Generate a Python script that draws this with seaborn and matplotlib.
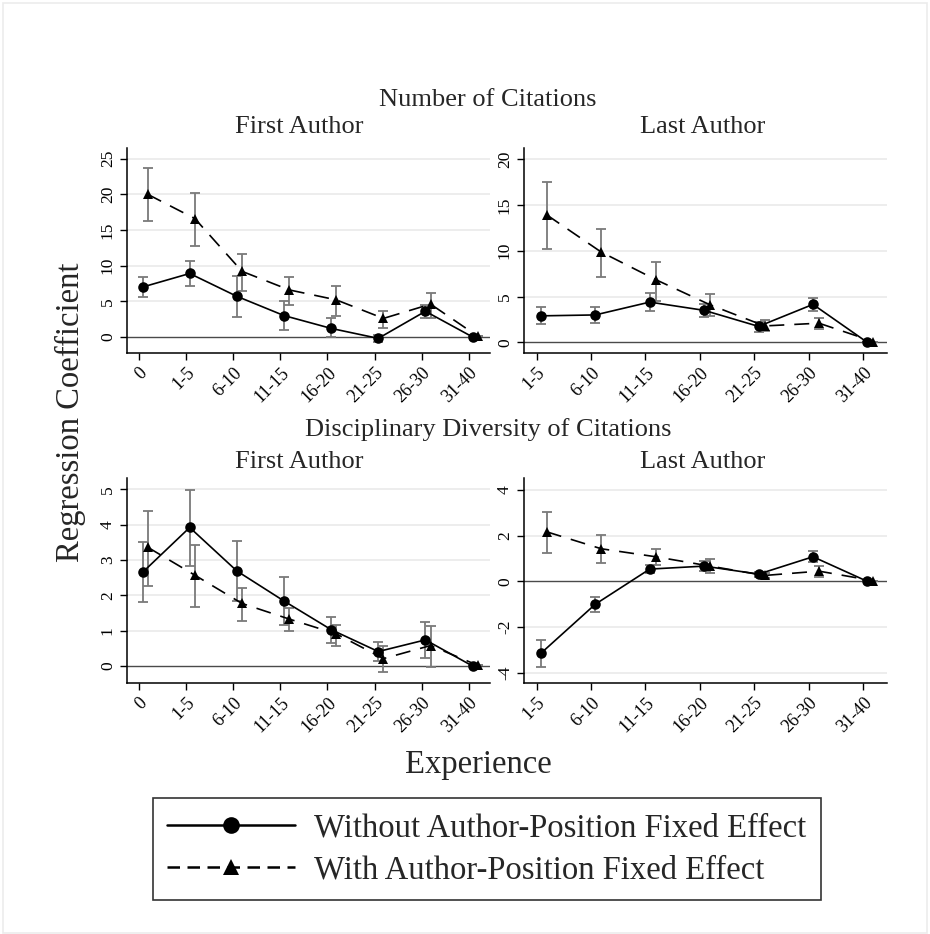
import numpy as np
import pandas as pd
import matplotlib
matplotlib.use("Agg")
import matplotlib.pyplot as plt
import seaborn as sns
from matplotlib.lines import Line2D
from matplotlib.patches import Rectangle

# ---------------- data ----------------
cats_first = ["0", "1-5", "6-10", "11-15", "16-20", "21-25", "26-30", "31-40"]
cats_last = ["1-5", "6-10", "11-15", "16-20", "21-25", "26-30", "31-40"]

# Number of citations, first author
nc_first_wo = [7.0, 8.9, 5.7, 3.0, 1.2, -0.2, 3.6, 0.0]
nc_first_wo_lo = [5.6, 7.2, 2.8, 1.0, 0.0, -0.7, 2.7, 0.0]
nc_first_wo_hi = [8.4, 10.65, 8.6, 5.0, 2.6, 0.3, 4.5, 0.0]
nc_first_w = [20.0, 16.6, 9.2, 6.6, 5.2, 2.6, 4.6, 0.1]
nc_first_w_lo = [16.2, 12.7, 6.5, 4.5, 3.0, 1.3, 2.7, 0.1]
nc_first_w_hi = [23.7, 20.2, 11.7, 8.45, 7.2, 3.6, 6.1, 0.1]

# Number of citations, last author
nc_last_wo = [2.9, 3.0, 4.4, 3.5, 1.75, 4.15, 0.0]
nc_last_wo_lo = [2.0, 2.1, 3.4, 2.8, 1.1, 3.4, 0.0]
nc_last_wo_hi = [3.85, 3.9, 5.4, 4.2, 2.2, 4.9, 0.0]
nc_last_w = [13.9, 9.85, 6.85, 4.1, 1.8, 2.1, 0.1]
nc_last_w_lo = [10.2, 7.1, 4.55, 2.85, 1.2, 1.45, 0.1]
nc_last_w_hi = [17.45, 12.4, 8.8, 5.3, 2.5, 2.7, 0.1]

# Disciplinary diversity, first author
dd_first_wo = [2.65, 3.92, 2.69, 1.84, 1.03, 0.41, 0.74, 0.0]
dd_first_wo_lo = [1.8, 2.84, 1.85, 1.17, 0.66, 0.15, 0.24, 0.0]
dd_first_wo_hi = [3.52, 4.98, 3.53, 2.51, 1.4, 0.68, 1.25, 0.0]
dd_first_w = [3.36, 2.57, 1.77, 1.33, 0.91, 0.21, 0.58, 0.02]
dd_first_w_lo = [2.26, 1.67, 1.28, 0.98, 0.57, -0.18, -0.04, 0.02]
dd_first_w_hi = [4.4, 3.42, 2.22, 1.64, 1.15, 0.58, 1.13, 0.02]

# Disciplinary diversity, last author
dd_last_wo = [-3.15, -1.0, 0.54, 0.67, 0.32, 1.08, 0.0]
dd_last_wo_lo = [-3.77, -1.33, 0.37, 0.45, 0.2, 0.83, 0.0]
dd_last_wo_hi = [-2.57, -0.69, 0.7, 0.9, 0.42, 1.33, 0.0]
dd_last_w = [2.17, 1.43, 1.08, 0.67, 0.26, 0.45, 0.03]
dd_last_w_lo = [1.24, 0.8, 0.7, 0.39, 0.16, 0.2, 0.03]
dd_last_w_hi = [3.04, 2.04, 1.43, 0.96, 0.37, 0.67, 0.03]

series_names = ["Without Author-Position Fixed Effect", "With Author-Position Fixed Effect"]

yticks_nc_first = [0, 5, 10, 15, 20, 25]
yticks_nc_last = [0, 5, 10, 15, 20]
yticks_dd_first = [0, 1, 2, 3, 4, 5]
yticks_dd_last = [-4, -2, 0, 2, 4]

# ---------------- style ----------------
sns.set_theme(style="white")
plt.rcParams["font.family"] = ["Liberation Serif", "DejaVu Serif"]
plt.rcParams["axes.unicode_minus"] = False

fig = plt.figure(figsize=(9.3, 9.34), dpi=100)
fig.patch.set_facecolor("white")
fig.add_artist(Rectangle((3 / 930, 1 / 934), 924 / 930, 930 / 934, transform=fig.transFigure,
                         fill=False, edgecolor="#ececec", linewidth=1.2))

W, H = 930, 934


def ax_rect(l, t, r, b):
    return [l / W, 1 - b / H, (r - l) / W, (b - t) / H]


panels = [
    dict(rect=ax_rect(127, 148, 490, 353), cats=cats_first,
         wo=(nc_first_wo, nc_first_wo_lo, nc_first_wo_hi),
         w=(nc_first_w, nc_first_w_lo, nc_first_w_hi),
         yticks=yticks_nc_first, ylim=(-2.25, 26.5), xlim=(-0.25, 7.45)),
    dict(rect=ax_rect(524, 148, 887, 353), cats=cats_last,
         wo=(nc_last_wo, nc_last_wo_lo, nc_last_wo_hi),
         w=(nc_last_w, nc_last_w_lo, nc_last_w_hi),
         yticks=yticks_nc_last, ylim=(-1.15, 21.2), xlim=(-0.23, 6.44)),
    dict(rect=ax_rect(127, 478, 490, 683), cats=cats_first,
         wo=(dd_first_wo, dd_first_wo_lo, dd_first_wo_hi),
         w=(dd_first_w, dd_first_w_lo, dd_first_w_hi),
         yticks=yticks_dd_first, ylim=(-0.48, 5.32), xlim=(-0.25, 7.45)),
    dict(rect=ax_rect(524, 478, 887, 683), cats=cats_last,
         wo=(dd_last_wo, dd_last_wo_lo, dd_last_wo_hi),
         w=(dd_last_w, dd_last_w_lo, dd_last_w_hi),
         yticks=yticks_dd_last, ylim=(-4.45, 4.53), xlim=(-0.23, 6.44)),
]

offsets = {series_names[0]: 0.08, series_names[1]: 0.19}
err_color = "#7a7a7a"

for p in panels:
    ax = fig.add_axes(p["rect"])
    ax.set_facecolor("white")
    n = len(p["cats"])
    rows = []
    for name, (vals, lo, hi) in zip(series_names, (p["wo"], p["w"])):
        for i in range(n):
            rows.append(dict(series=name, cat=i, xpos=i + offsets[name],
                             coef=vals[i], lo=lo[i], hi=hi[i]))
    df = pd.DataFrame(rows)

    # grid and zero line
    for yt in p["yticks"]:
        if yt != 0:
            ax.axhline(yt, color="#e8e8e8", lw=1.1, zorder=0)
    ax.axhline(0, color="#4a4a4a", lw=1.0, zorder=1)

    # error bars
    for name in series_names:
        sub = df[df.series == name]
        ax.errorbar(sub.xpos, sub.coef,
                    yerr=[sub.coef - sub.lo, sub.hi - sub.coef],
                    fmt="none", ecolor=err_color, elinewidth=1.3,
                    capsize=3.5, capthick=1.3, zorder=2)

    sns.lineplot(data=df, x="xpos", y="coef", style="series",
                 style_order=series_names,
                 markers={series_names[0]: "o", series_names[1]: "^"},
                 dashes={series_names[0]: "", series_names[1]: (9, 6)},
                 color="black", markersize=7.6, markeredgewidth=0,
                 linewidth=1.2, errorbar=None, sort=True, legend=False,
                 ax=ax, zorder=3)

    ax.set_xlim(*p["xlim"])
    ax.set_ylim(*p["ylim"])
    ax.set_xticks(range(n))
    ax.set_xticklabels(p["cats"], rotation=45, ha="right",
                       rotation_mode="anchor", fontsize=13)
    ax.set_yticks(p["yticks"])
    ax.set_yticklabels([str(v) for v in p["yticks"]], rotation=90,
                       va="center", fontsize=12.5)
    ax.set_xlabel("")
    ax.set_ylabel("")
    for s in ["top", "right"]:
        ax.spines[s].set_visible(False)
    for s in ["left", "bottom"]:
        ax.spines[s].set_color("black")
        ax.spines[s].set_linewidth(1.1)
    ax.tick_params(axis="both", direction="out", length=5, width=1.0,
                   color="black", labelcolor="black", pad=3,
                   bottom=True, left=True)

# ---------------- titles ----------------
fs_title = 19
fig.text(488 / W, 1 - 100 / H, "Number of Citations", ha="center", va="center", fontsize=fs_title)
fig.text(299 / W, 1 - 127 / H, "First Author", ha="center", va="center", fontsize=fs_title)
fig.text(703 / W, 1 - 127 / H, "Last Author", ha="center", va="center", fontsize=fs_title)
fig.text(488 / W, 1 - 430 / H, "Disciplinary Diversity of Citations", ha="center", va="center", fontsize=fs_title)
fig.text(299 / W, 1 - 462 / H, "First Author", ha="center", va="center", fontsize=fs_title)
fig.text(703 / W, 1 - 462 / H, "Last Author", ha="center", va="center", fontsize=fs_title)

fig.text(70 / W, 1 - 412 / H, "Regression Coefficient", ha="center", va="center",
         rotation=90, fontsize=23.5)
fig.text(478 / W, 1 - 765 / H, "Experience", ha="center", va="center", fontsize=23.5)

# ---------------- legend ----------------
handles = [
    Line2D([], [], color="black", lw=1.8, marker="o", markersize=12, markeredgewidth=0),
    Line2D([], [], color="black", lw=1.8, marker="^", markersize=12, markeredgewidth=0,
           dashes=(5, 3)),
]
leg = fig.legend(handles, series_names, loc="center", bbox_to_anchor=(487 / W, 1 - 849 / H),
                 fontsize=23.5, frameon=True, fancybox=False, handlelength=3.9,
                 handletextpad=0.6, borderpad=0.45, labelspacing=0.35, borderaxespad=0)
leg.get_frame().set_edgecolor("black")
leg.get_frame().set_linewidth(1.2)

fig.savefig("out.png", dpi=100, facecolor="white")
